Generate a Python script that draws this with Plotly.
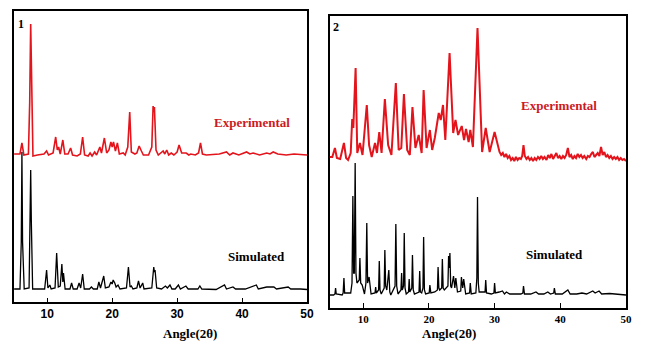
import plotly.graph_objects as go

# ---------------- Panel 1 data (angle 2θ, intensity a.u.) ----------------
p1_exp_angle = [4.9, 5.8, 6.1, 6.4, 7.1, 7.3, 7.45, 7.6, 7.8, 8.5, 9.5, 9.9, 10.2, 10.9, 11.3, 11.55,
                11.75, 12.0, 12.4, 12.7, 13.2, 13.6, 13.9, 14.6, 15.1, 15.45, 15.75, 16.3, 16.6, 16.9,
                17.3, 17.6, 18.1, 18.35, 18.8, 19.15, 19.5, 19.8, 20.0, 20.2, 20.5, 20.8, 21.1, 21.7,
                22.0, 22.4, 22.7, 22.95, 23.5, 23.8, 24.15, 24.5, 24.8, 25.6, 26.1, 26.3, 26.4, 26.5,
                26.75, 27.1, 27.85, 28.1, 28.4, 28.7, 29.1, 29.5, 30.0, 30.3, 30.7, 31.4, 31.8, 32.1,
                32.8, 33.3, 33.6, 33.9, 34.5, 35.5, 36.5, 37.6, 38.1, 38.6, 39.5, 40.7, 41.2, 41.7,
                42.7, 43.8, 44.3, 44.8, 45.5, 46.8, 48.0, 49.0, 50.0]
p1_exp_int = [148, 148, 159, 147, 148, 200, 278, 200, 146, 147, 148, 151, 147, 149, 165, 152,
              155, 148, 162, 148, 148, 154, 147, 146, 148, 165, 147, 146, 149, 146,
              150, 147, 155, 149, 164, 149, 152, 160, 155, 160, 151, 159, 148, 149,
              147, 155, 190, 150, 148, 149, 156, 151, 147, 147, 155, 196, 190, 195,
              152, 147, 151, 148, 152, 147, 149, 147, 150, 157, 149, 149, 147, 148,
              147, 149, 159, 148, 147, 147.5, 148, 150, 147, 149, 147, 150, 148, 149,
              147, 149, 148, 150, 148, 147, 148, 147.5, 147]

p1_sim_angle = [4.9, 5.8, 6.0, 6.1, 6.2, 6.45, 7.2, 7.35, 7.45, 7.55, 7.75, 9.6, 9.9, 10.1, 10.4,
                10.6, 11.2, 11.45, 11.7, 12.0, 12.25, 12.4, 12.5, 12.75, 13.5, 13.75, 14.0, 14.6,
                14.9, 15.15, 15.45, 15.7, 16.5, 16.8, 17.1, 17.7, 17.95, 18.2, 18.7, 18.95, 19.5,
                19.8, 20.0, 20.15, 20.4, 20.6, 20.9, 21.2, 22.2, 22.5, 22.75, 22.95, 23.2, 23.8,
                24.05, 24.3, 24.7, 24.9, 26.1, 26.4, 26.5, 26.6, 26.85, 27.6, 28.2, 28.5, 28.9,
                29.2, 29.7, 30.2, 30.5, 31.35, 31.7, 33.2, 33.5, 33.8, 35.0, 36.0, 37.3, 37.6,
                38.6, 39.0, 40.5, 42.2, 42.5, 43.8, 44.9, 45.3, 47.1, 47.5, 49.0, 50.0]
p1_sim_int = [13, 13, 60, 150, 60, 13, 14, 80, 132, 80, 13, 13, 32, 14, 17,
              13, 14, 49, 15, 16, 38, 20, 29, 13, 13, 19, 13, 13,
              19, 14, 28, 13, 13, 15, 13, 13, 20, 14, 26, 14, 15,
              20, 18, 22, 19, 15, 17, 13, 14, 35, 15, 16, 13, 14,
              21, 14, 19, 13, 14, 35, 30, 32, 14, 13, 16, 14, 17,
              13, 13, 17, 13, 16, 13, 13, 16, 13, 13, 12.5, 17, 13,
              15, 13, 13, 17, 13, 15, 15, 13, 15, 13, 13, 12.5]

# ---------------- Panel 2 data ----------------
p2_exp_angle = [4.95, 5.3, 5.7, 6.0, 6.5, 7.07, 7.4, 7.7, 8.1, 8.33, 8.5, 8.85, 9.1, 9.5, 9.9, 10.55,
                10.9, 11.3, 11.8, 12.1, 12.45, 12.8, 13.3, 13.8, 14.3, 14.97, 15.4, 15.8, 16.2, 16.7,
                17.1, 17.5, 17.95, 18.45, 18.9, 19.2, 19.65, 20.15, 20.5, 20.9, 21.5, 21.8, 22.15,
                22.5, 23.15, 23.7, 24.05, 24.45, 25.0, 25.35, 25.65, 26.05, 26.3, 26.7, 27.4, 28.1,
                28.65, 29.25, 30.0,
                30.5, 30.75, 31.0, 31.25, 31.5, 31.75, 32.0, 32.25, 32.5, 32.75, 33.0, 33.25, 33.5,
                33.75, 34.0, 34.2, 34.4, 34.6, 34.85, 35.1, 35.35, 35.6, 35.85, 36.1, 36.35, 36.6,
                36.85, 37.1, 37.35, 37.6, 37.9, 38.15, 38.4, 38.65, 38.9, 39.15, 39.4, 39.65, 39.9,
                40.15, 40.4, 40.65, 40.9, 41.15, 41.4, 41.65, 41.9, 42.15, 42.4, 42.65, 42.9, 43.15,
                43.4, 43.65, 43.95, 44.2, 44.45, 44.7, 44.95, 45.2, 45.45, 45.7, 45.95, 46.2, 46.45,
                46.7, 46.95, 47.2, 47.45, 47.7, 47.95, 48.2, 48.45, 48.7, 48.95, 49.2, 49.45, 49.7,
                50.0]
p2_exp_int = [151, 151, 160, 150, 149, 165, 150, 148, 155, 189, 180, 240, 155, 165, 153, 203,
              163, 151, 165, 155, 176, 155, 209, 163, 153, 225, 158, 160, 214, 158,
              153, 201, 160, 173, 155, 218, 160, 178, 158, 170, 195, 188, 203,
              168, 255, 175, 188, 173, 182, 168, 179, 166, 178, 161, 280, 156,
              180, 156, 176,
              161, 156, 153, 155, 151, 154, 150, 152, 148, 150, 147, 151, 148,
              150, 149, 152, 163, 152, 149, 151, 148, 150, 147, 150, 148, 151,
              149, 152, 149, 151, 148, 153, 150, 154, 149, 152, 155, 150, 152,
              149, 152, 150, 153, 160, 151, 153, 149, 152, 150, 154, 151, 153,
              150, 152, 149, 152, 151, 154, 156, 151, 153, 155, 152, 161, 153,
              156, 151, 153, 150, 152, 149, 151, 149, 151, 148, 150, 148, 149,
              147]

p2_sim_angle = [4.95, 5.5, 5.7, 5.8, 5.9, 6.8, 6.95, 7.07, 7.18, 8.1, 8.3, 8.43, 8.55, 8.65, 8.78,
                8.9, 9.05, 9.4, 9.5, 9.62, 9.85, 10.2, 10.42, 10.55, 10.67, 10.9, 11.2, 11.8, 11.9,
                12.0, 12.35, 12.45, 12.56, 12.75, 13.2, 13.3, 13.42, 13.6, 13.9, 14.05, 14.2, 14.85,
                14.97, 15.1, 15.3, 15.75, 15.85, 15.95, 16.15, 16.25, 16.37, 16.55, 16.9, 17.0, 17.1,
                17.4, 17.5, 17.62, 17.8, 18.5, 18.6, 18.7, 18.9, 19.1, 19.2, 19.32, 19.5, 20.05,
                20.15, 20.3, 20.9, 21.3, 21.4, 21.52, 21.65, 21.95, 22.05, 22.17, 22.35, 22.9, 23.0,
                23.1, 23.2, 23.32, 23.45, 23.75, 23.95, 24.1, 24.35, 24.85, 24.95, 25.15, 25.3, 25.6,
                26.2, 26.3, 26.45, 27.15, 27.3, 27.4, 27.52, 27.65, 28.0, 28.55, 28.65, 28.77, 29.5,
                29.9, 30.0, 30.12, 30.7, 31.2, 31.5, 31.8, 32.3, 33.0, 34.0, 34.3, 34.4, 34.55, 35.5,
                36.3, 36.7, 37.5, 38.1, 38.5, 39.0, 39.1, 39.25, 40.3, 41.15, 41.5, 42.5, 43.3, 44.0,
                44.95, 45.3, 45.9, 46.3, 47.5, 48.5, 49.8, 50.0]
p2_sim_int = [13, 13, 14, 20, 14, 13, 15, 30, 15, 15, 25, 112, 35, 35, 145,
              35, 25, 28, 50, 25, 23, 14, 25, 85, 25, 31, 14, 15, 21,
              15, 18, 47, 18, 14, 20, 58, 22, 18, 38, 16, 13, 22,
              84, 22, 14, 18, 35, 18, 22, 75, 20, 14, 16, 29, 16,
              20, 53, 18, 14, 16, 37, 16, 15, 20, 71, 18, 14, 15,
              23, 15, 16, 18, 41, 20, 18, 20, 49, 20, 18, 22, 52,
              40, 55, 22, 20, 32, 20, 30, 16, 17, 31, 20, 29, 14,
              15, 25, 14, 15, 30, 111, 25, 16, 16, 16, 28, 15, 14,
              15, 25, 15, 16, 17, 14, 16, 14, 14, 14, 15, 22, 14, 14,
              16, 14, 14, 16, 14, 15, 20, 14, 14, 18, 14, 14, 15, 14,
              17, 15, 17, 14, 14.5, 14, 13, 13]

tick_vals = [10, 20, 30, 40, 50]
tick_text = ["10", "20", "30", "40", "50"]

RED = "#e3141c"
TXT_RED = "#cc1a1f"
SERIF = "Liberation Serif"

fig = go.Figure()
fig.add_trace(go.Scatter(x=p1_exp_angle, y=p1_exp_int, mode="lines", line=dict(color=RED, width=1.6),
                         xaxis="x", yaxis="y", showlegend=False))
fig.add_trace(go.Scatter(x=p1_sim_angle, y=p1_sim_int, mode="lines", line=dict(color="black", width=1.3),
                         xaxis="x", yaxis="y", showlegend=False))
fig.add_trace(go.Scatter(x=p2_exp_angle, y=p2_exp_int, mode="lines", line=dict(color=RED, width=2.0),
                         xaxis="x2", yaxis="y2", showlegend=False))
fig.add_trace(go.Scatter(x=p2_sim_angle, y=p2_sim_int, mode="lines", line=dict(color="black", width=1.3),
                         xaxis="x2", yaxis="y2", showlegend=False))

frame = dict(showline=True, linecolor="black", linewidth=1.5, mirror=True, showgrid=False,
             zeroline=False, automargin=False)

fig.update_layout(
    width=647, height=364,
    margin=dict(l=0, r=0, t=0, b=0, autoexpand=False),
    paper_bgcolor="white", plot_bgcolor="white",
    xaxis=dict(domain=[14/647, 307/647], range=[4.88, 50], tickvals=tick_vals, ticktext=tick_text,
               ticks="inside", ticklen=4, tickwidth=1, tickcolor="black",
               tickfont=dict(family="Liberation Sans", size=12, color="black", weight="bold"),
               **frame),
    yaxis=dict(domain=[1 - 302/364, 1 - 11/364], range=[0, 291], showticklabels=False, ticks="", **frame),
    xaxis2=dict(domain=[330/647, 626/647], range=[4.95, 50], tickvals=tick_vals, ticktext=tick_text,
                ticks="inside", ticklen=5, tickwidth=1, tickcolor="black",
                tickfont=dict(family=SERIF, size=11, color="black", weight="bold"),
                anchor="y2", **frame),
    yaxis2=dict(domain=[1 - 308/364, 1 - 16/364], range=[0, 292], showticklabels=False, ticks="",
                anchor="x2", **frame),
)

ann_font = dict(family=SERIF, size=13)
fig.add_annotation(x=41.5, y=180, xref="x", yref="y", text="<b>Experimental</b>", showarrow=False,
                   font=dict(**ann_font, color=TXT_RED))
fig.add_annotation(x=42.2, y=46, xref="x", yref="y", text="<b>Simulated</b>", showarrow=False,
                   font=dict(**ann_font, color="black"))
fig.add_annotation(x=5.9, y=278, xref="x", yref="y", text="<b>1</b>", showarrow=False,
                   font=dict(family=SERIF, size=12, color="black"))
fig.add_annotation(x=39.8, y=202, xref="x2", yref="y2", text="<b>Experimental</b>", showarrow=False,
                   font=dict(**ann_font, color=TXT_RED))
fig.add_annotation(x=39.1, y=53, xref="x2", yref="y2", text="<b>Simulated</b>", showarrow=False,
                   font=dict(**ann_font, color="black"))
fig.add_annotation(x=5.85, y=281, xref="x2", yref="y2", text="<b>2</b>", showarrow=False,
                   font=dict(family=SERIF, size=12, color="black"))
# axis titles
fig.add_annotation(x=161/647, y=1 - 343/364, xref="paper", yref="paper", text="<b>Angle(2θ)</b>",
                   showarrow=False, font=dict(**ann_font, color="black"))
fig.add_annotation(x=478/647, y=1 - 343/364, xref="paper", yref="paper", text="<b>Angle(2θ)</b>",
                   showarrow=False, font=dict(**ann_font, color="black"))

fig.write_html("out.html", config={"displayModeBar": False},
               post_script="document.body.style.margin='0';document.body.style.overflow='hidden';")
